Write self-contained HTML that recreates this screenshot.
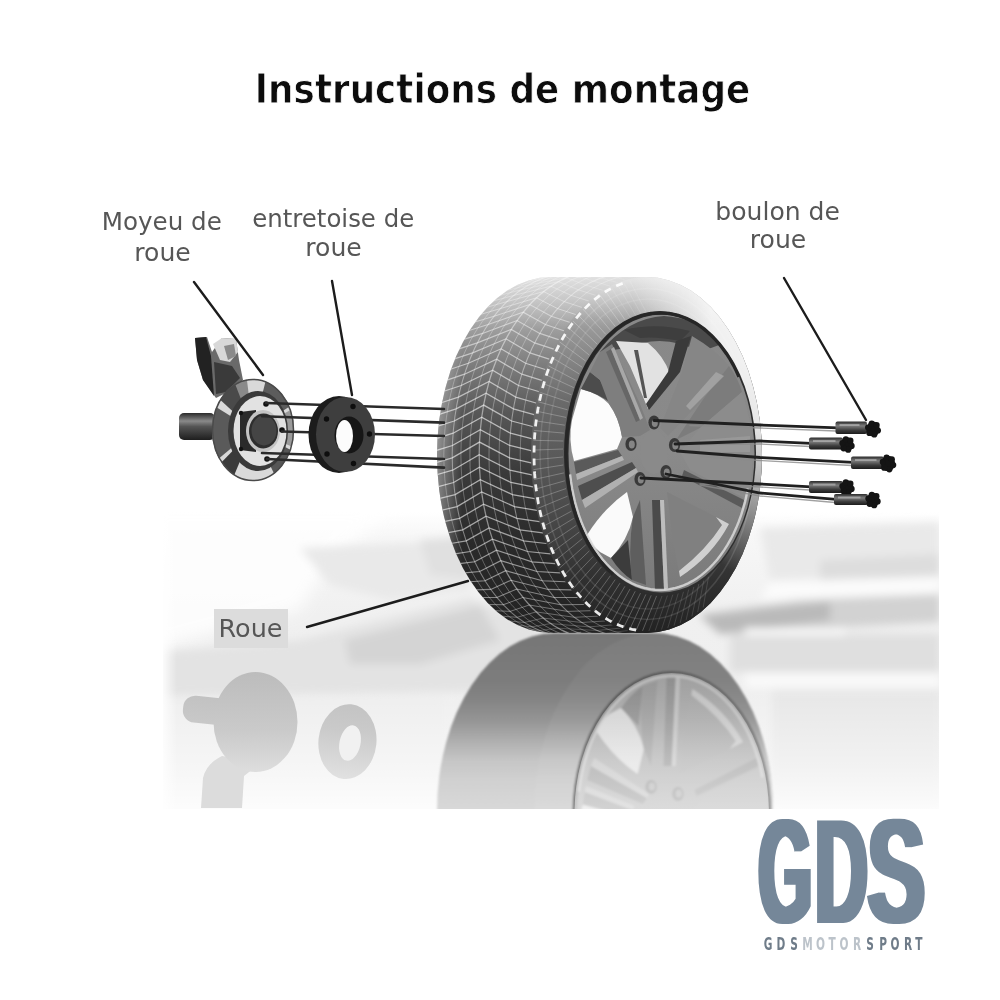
<!DOCTYPE html>
<html lang="fr">
<head>
<meta charset="utf-8">
<title>Instructions de montage</title>
<style>
html,body{margin:0;padding:0;background:#fff;}
body{width:1000px;height:1000px;overflow:hidden;position:relative;font-family:"DejaVu Sans","Liberation Sans",sans-serif;}
svg{position:absolute;left:0;top:0;display:block;}
.title{font-family:"DejaVu Sans","Liberation Sans",sans-serif;font-weight:bold;font-size:40.1px;fill:#0a0a0a;stroke:#fff;stroke-width:0.85px;stroke-linejoin:round;}
.lbl{font-family:"DejaVu Sans","Liberation Sans",sans-serif;font-size:24.6px;fill:#555;}
</style>
</head>
<body>
<svg width="1000" height="1000" viewBox="0 0 1000 1000">
<defs>
<filter id="b1" x="-20%" y="-20%" width="140%" height="140%"><feGaussianBlur stdDeviation="1"/></filter>
<filter id="b2" x="-20%" y="-20%" width="140%" height="140%"><feGaussianBlur stdDeviation="2"/></filter>
<filter id="b4" x="-20%" y="-20%" width="140%" height="140%"><feGaussianBlur stdDeviation="4"/></filter>
<filter id="b8" x="-30%" y="-30%" width="160%" height="160%"><feGaussianBlur stdDeviation="8"/></filter>
<filter id="b05" x="-10%" y="-10%" width="120%" height="120%"><feGaussianBlur stdDeviation="0.6"/></filter>
<linearGradient id="floorFade" x1="0" y1="0" x2="0" y2="1">
  <stop offset="0" stop-color="#fff" stop-opacity="0"/>
  <stop offset="0.6" stop-color="#fff" stop-opacity="0"/>
  <stop offset="0.85" stop-color="#fff" stop-opacity="0.45"/>
  <stop offset="1" stop-color="#fff" stop-opacity="0.85"/>
</linearGradient>
<linearGradient id="reflG" gradientUnits="userSpaceOnUse" x1="0" y1="630" x2="0" y2="808">
  <stop offset="0" stop-color="#7a7a7a"/>
  <stop offset="0.35" stop-color="#949494"/>
  <stop offset="0.7" stop-color="#b8b8b8"/>
  <stop offset="1" stop-color="#d6d6d6"/>
</linearGradient>
<linearGradient id="reflRim" gradientUnits="userSpaceOnUse" x1="0" y1="664" x2="0" y2="808">
  <stop offset="0" stop-color="#bdbdbd"/>
  <stop offset="0.5" stop-color="#d2d2d2"/>
  <stop offset="1" stop-color="#e6e6e6"/>
</linearGradient>
<clipPath id="photo"><rect x="163" y="250" width="776" height="559"/></clipPath>
<clipPath id="reflClip"><path d="M436 808 C437 740 470 640 600 633 L700 633 C740 650 772 700 773 745 L771 808 Z"/></clipPath>
<linearGradient id="reflFade" gradientUnits="userSpaceOnUse" x1="0" y1="633" x2="0" y2="808">
 <stop offset="0" stop-color="#f4f4f4" stop-opacity="0"/>
 <stop offset="0.5" stop-color="#f4f4f4" stop-opacity="0.19"/>
 <stop offset="0.73" stop-color="#f4f4f4" stop-opacity="0.38"/>
 <stop offset="1" stop-color="#f4f4f4" stop-opacity="0.6"/>
</linearGradient>
<linearGradient id="floorBase" gradientUnits="userSpaceOnUse" x1="0" y1="512" x2="0" y2="808">
 <stop offset="0" stop-color="#ffffff"/>
 <stop offset="0.08" stop-color="#f7f7f7"/>
 <stop offset="0.35" stop-color="#f0f0f0"/>
 <stop offset="1" stop-color="#eeeeee"/>
</linearGradient>
<linearGradient id="edgeL" gradientUnits="userSpaceOnUse" x1="163" y1="0" x2="177" y2="0">
 <stop offset="0" stop-color="#fff" stop-opacity="0.8"/>
 <stop offset="1" stop-color="#fff" stop-opacity="0"/>
</linearGradient>
<linearGradient id="hubReflG" gradientUnits="userSpaceOnUse" x1="0" y1="672" x2="0" y2="790">
 <stop offset="0" stop-color="#bcbcbc"/>
 <stop offset="0.5" stop-color="#cacaca"/>
 <stop offset="1" stop-color="#e6e6e6"/>
</linearGradient>
<linearGradient id="reflBodyG" gradientUnits="userSpaceOnUse" x1="0" y1="633" x2="0" y2="458">
 <stop offset="0" stop-color="#767676"/>
 <stop offset="0.27" stop-color="#7c7c7c"/>
 <stop offset="0.38" stop-color="#848484"/>
 <stop offset="0.5" stop-color="#959595"/>
 <stop offset="0.61" stop-color="#adadad"/>
 <stop offset="0.73" stop-color="#c6c6c6"/>
 <stop offset="0.84" stop-color="#d0d0d0"/>
 <stop offset="1" stop-color="#d8d8d8"/>
</linearGradient>
<linearGradient id="reflRimFade" gradientUnits="userSpaceOnUse" x1="0" y1="673" x2="0" y2="808">
 <stop offset="0" stop-color="#f4f4f4" stop-opacity="0.28"/>
 <stop offset="0.45" stop-color="#f4f4f4" stop-opacity="0.4"/>
 <stop offset="1" stop-color="#f4f4f4" stop-opacity="0.62"/>
</linearGradient>

<clipPath id="tireSil"><path d="M551 277 L646.5 277 A115.5 178 0 0 1 646.5 633 L551 633 A114.0 178 0 0 1 551 277 Z"/></clipPath>
<clipPath id="rimClip"><ellipse cx="660" cy="453" rx="94" ry="140"/></clipPath>
<linearGradient id="treadG" gradientUnits="userSpaceOnUse" x1="0" y1="277" x2="0" y2="633">
 <stop offset="0" stop-color="#cfcfcf"/>
 <stop offset="0.12" stop-color="#a6a6a6"/>
 <stop offset="0.25" stop-color="#7c7c7c"/>
 <stop offset="0.38" stop-color="#585858"/>
 <stop offset="0.55" stop-color="#3a3a3a"/>
 <stop offset="0.75" stop-color="#2a2a2a"/>
 <stop offset="1" stop-color="#222"/>
</linearGradient>
<linearGradient id="sideG" gradientUnits="userSpaceOnUse" x1="0" y1="277" x2="0" y2="633">
 <stop offset="0" stop-color="#d8d8d8"/>
 <stop offset="0.12" stop-color="#9e9e9e"/>
 <stop offset="0.2" stop-color="#8c8c8c"/>
 <stop offset="0.27" stop-color="#7c7c7c"/>
 <stop offset="0.35" stop-color="#6a6a6a"/>
 <stop offset="0.5" stop-color="#5a5a5a"/>
 <stop offset="0.68" stop-color="#484848"/>
 <stop offset="0.85" stop-color="#303030"/>
 <stop offset="1" stop-color="#222"/>
</linearGradient>
<linearGradient id="sideFadeR" gradientUnits="userSpaceOnUse" x1="650" y1="300" x2="770" y2="300">
 <stop offset="0" stop-color="#fff" stop-opacity="0"/>
 <stop offset="1" stop-color="#fff" stop-opacity="0.85"/>
</linearGradient>
<linearGradient id="sideFadeV" gradientUnits="userSpaceOnUse" x1="0" y1="300" x2="0" y2="520">
 <stop offset="0" stop-color="#fff" stop-opacity="1"/>
 <stop offset="1" stop-color="#fff" stop-opacity="0"/>
</linearGradient>
<radialGradient id="fadeTR" gradientUnits="userSpaceOnUse" cx="775" cy="300" r="285" gradientTransform="translate(775 300) scale(0.5 1) translate(-775 -300)">
 <stop offset="0" stop-color="#fff" stop-opacity="0.97"/>
 <stop offset="0.45" stop-color="#fff" stop-opacity="0.85"/>
 <stop offset="0.75" stop-color="#fff" stop-opacity="0.4"/>
 <stop offset="1" stop-color="#fff" stop-opacity="0"/>
</radialGradient>
<linearGradient id="fadeTop" gradientUnits="userSpaceOnUse" x1="0" y1="272" x2="0" y2="330">
 <stop offset="0" stop-color="#fff" stop-opacity="0.4"/>
 <stop offset="1" stop-color="#fff" stop-opacity="0"/>
</linearGradient>
<mask id="fadeMask"><rect x="600" y="250" width="200" height="300" fill="url(#sideFadeV)"/></mask>
<linearGradient id="treadEdge" gradientUnits="userSpaceOnUse" x1="437" y1="0" x2="462" y2="0">
 <stop offset="0" stop-color="#fff" stop-opacity="0.4"/>
 <stop offset="1" stop-color="#fff" stop-opacity="0"/>
</linearGradient>
<linearGradient id="rimG" gradientUnits="userSpaceOnUse" x1="0" y1="313" x2="0" y2="593">
 <stop offset="0" stop-color="#888"/>
 <stop offset="0.5" stop-color="#8a8a8a"/>
 <stop offset="1" stop-color="#7a7a7a"/>
</linearGradient>
<linearGradient id="shaftG" x1="0" y1="0" x2="0" y2="1">
 <stop offset="0" stop-color="#2a2a2a"/><stop offset="0.3" stop-color="#8a8a8a"/><stop offset="0.5" stop-color="#555"/><stop offset="1" stop-color="#1e1e1e"/>
</linearGradient>
<linearGradient id="boltG" x1="0" y1="0" x2="0" y2="1">
 <stop offset="0" stop-color="#2c2c2c"/><stop offset="0.35" stop-color="#7c7c7c"/><stop offset="0.7" stop-color="#3c3c3c"/><stop offset="1" stop-color="#1c1c1c"/>
</linearGradient>
<linearGradient id="discG" x1="0" y1="0" x2="1" y2="1">
 <stop offset="0" stop-color="#6a6a6a"/><stop offset="0.3" stop-color="#e8e8e8"/><stop offset="0.5" stop-color="#5a5a5a"/><stop offset="0.75" stop-color="#d8d8d8"/><stop offset="1" stop-color="#3a3a3a"/>
</linearGradient>
<linearGradient id="brkG" x1="0" y1="0" x2="1" y2="0">
 <stop offset="0" stop-color="#2e2e2e"/><stop offset="0.45" stop-color="#c8c8c8"/><stop offset="0.7" stop-color="#4a4a4a"/><stop offset="1" stop-color="#9a9a9a"/>
</linearGradient>
<filter id="hdG" x="-10%" y="-5%" width="120%" height="110%"><feMorphology operator="dilate" radius="6.05 0"/><feGaussianBlur stdDeviation="0.5"/></filter>
<filter id="hdD" x="-10%" y="-5%" width="120%" height="110%"><feMorphology operator="dilate" radius="5.74 0"/><feGaussianBlur stdDeviation="0.5"/></filter>
<filter id="hdS" x="-10%" y="-5%" width="120%" height="110%"><feMorphology operator="dilate" radius="4.82 0"/><feGaussianBlur stdDeviation="0.5"/></filter></defs>
<g clip-path="url(#photo)">
  <!-- base floor -->
  <rect x="163" y="512" width="776" height="297" fill="url(#floorBase)"/>
  <path d="M150 505 L400 505 L330 560 L300 610 L150 650 Z" fill="#fff" opacity="0.85" filter="url(#b8)"/>
  <g filter="url(#b4)">
    <!-- left clouds -->
    <path d="M300 548 L470 540 L470 590 L390 600 L330 585 Z" fill="#e9e9e9"/>
    <path d="M420 540 L470 536 L470 580 L430 575 Z" fill="#e0e0e0"/>
    <path d="M163 652 L300 640 L470 598 L540 628 L540 690 L163 696 Z" fill="#e3e3e3"/>
    <path d="M345 640 L480 606 L500 640 L420 664 L350 664 Z" fill="#d4d4d4"/>
    <rect x="163" y="696" width="280" height="113" fill="#eeeeee"/>
    <!-- right side bands -->
    <path d="M760 528 L940 522 L940 576 L770 580 Z" fill="#e9e9e9"/>
    <path d="M820 560 L940 554 L940 576 L820 580 Z" fill="#dddddd"/>
    <path d="M770 582 L940 577 L940 593 L760 600 Z" fill="#fbfbfb"/>
    <path d="M700 614 L800 600 L940 594 L940 622 L720 634 Z" fill="#d2d2d2"/>
    <path d="M700 616 L830 602 L830 620 L720 634 Z" fill="#b9b9b9"/>
    <rect x="730" y="634" width="210" height="38" fill="#dfdfdf"/>
    <rect x="745" y="628" width="100" height="7" fill="#fafafa"/>
    <rect x="745" y="673" width="195" height="15" fill="#f9f9f9"/>
    <rect x="772" y="690" width="168" height="119" fill="#e7e7e7"/>
  </g>
  <rect x="163" y="512" width="776" height="297" fill="url(#floorFade)"/>
  <!-- soft left / right edges -->
  <rect x="163" y="512" width="14" height="297" fill="url(#edgeL)"/>
</g>

<g clip-path="url(#photo)">
 <g filter="url(#b05)">
  <path d="M201 808 L203 778 Q206 764 222 756 L262 762 L244 776 L242 808 Z" fill="#dcdcdc"/>
  <rect x="183" y="697" width="50" height="27" rx="12" fill="url(#hubReflG)" transform="rotate(6 208 710)"/>
  <ellipse cx="255.500" cy="722" rx="42" ry="50" fill="url(#hubReflG)"/>
  <ellipse cx="347.400" cy="741.600" rx="29" ry="37.500" fill="url(#hubReflG)" transform="rotate(6 347 742)"/>
  <ellipse cx="350" cy="743" rx="10.500" ry="18" fill="#f1f1f1" transform="rotate(12 350 743)"/>
 </g>
 <g transform="translate(437,1266) scale(1.034,-1) translate(-437,0)" filter="url(#b1)">
  <path d="M551 277 L646.5 277 A115.5 178 0 0 1 646.5 633 L551 633 A114.0 178 0 0 1 551 277 Z" fill="url(#reflBodyG)"/>
  <ellipse cx="646.5" cy="455" rx="115.5" ry="178" fill="url(#reflBodyG)"/>
  <ellipse cx="646.5" cy="455" rx="115.5" ry="178" fill="#fff" opacity="0.05"/>
  <g transform="translate(4,0)" opacity="0.5"><use href="#tireRim"/></g>
 </g>
 <ellipse cx="671.7" cy="813" rx="97.2" ry="140" fill="url(#reflRimFade)"/>
</g>
<g id="tire">
<path d="M551 277 L646.5 277 A115.5 178 0 0 1 646.5 633 L551 633 A114.0 178 0 0 1 551 277 Z" fill="url(#treadG)"/>
<g clip-path="url(#tireSil)" fill="none" stroke="#fff" stroke-linecap="round">
<path d="M657.2 632.2 L649.2 633.9 L641.0 634.8 L632.9 634.8 L624.7 633.9 L616.7 632.2 L608.7 629.6 L600.9 626.1 L593.2 621.8 L585.8 616.7 L578.6 610.8 L571.7 604.2 L565.1 596.8 L558.8 588.7 L553.0 580.0 L547.5 570.7 L542.5 560.8 L537.9 550.3 L533.9 539.5 L530.3 528.2 L527.2 516.5 L524.7 504.6 L522.8 492.4 L521.3 480.0 L520.5 467.6 L520.2 455.0 L520.5 442.4 L521.3 430.0 L522.8 417.6 L524.7 405.4 L527.2 393.5 L530.3 381.8 L533.9 370.5 L537.9 359.7 L542.5 349.2 L547.5 339.3 L553.0 330.0 L558.8 321.3 L565.1 313.2 L571.7 305.8 L578.6 299.2 L585.8 293.3 L593.2 288.2 L600.9 283.9 L608.7 280.4 L616.7 277.8 L624.7 276.1 L632.9 275.2 L641.0 275.2 L649.2 276.1 L657.2 277.8" stroke-width="0.9" stroke-opacity="0.3"/>
<path d="M647.9 633.9 L639.7 635.7 L631.5 636.6 L623.3 636.6 L615.1 635.7 L606.9 633.9 L598.9 631.3 L591.0 627.8 L583.2 623.4 L575.7 618.3 L568.5 612.3 L561.5 605.6 L554.8 598.2 L548.5 590.0 L542.6 581.2 L537.1 571.8 L532.0 561.8 L527.4 551.3 L523.3 540.3 L519.7 528.9 L516.6 517.1 L514.1 505.1 L512.1 492.8 L510.7 480.3 L509.8 467.7 L509.5 455.0 L509.8 442.3 L510.7 429.7 L512.1 417.2 L514.1 404.9 L516.6 392.9 L519.7 381.1 L523.3 369.7 L527.4 358.7 L532.0 348.2 L537.1 338.2 L542.6 328.8 L548.5 320.0 L554.8 311.8 L561.5 304.4 L568.5 297.7 L575.7 291.7 L583.2 286.6 L591.0 282.2 L598.9 278.7 L606.9 276.1 L615.1 274.3 L623.3 273.4 L631.5 273.4 L639.7 274.3 L647.9 276.1" stroke-width="1.1" stroke-opacity="0.4"/>
<path d="M638.5 635.3 L630.3 637.0 L622.0 637.9 L613.7 637.9 L605.4 637.0 L597.2 635.3 L589.1 632.6 L581.1 629.1 L573.4 624.7 L565.8 619.5 L558.5 613.5 L551.4 606.7 L544.7 599.2 L538.4 591.0 L532.4 582.2 L526.9 572.7 L521.8 562.6 L517.1 552.0 L513.0 540.9 L509.3 529.4 L506.2 517.6 L503.7 505.5 L501.7 493.1 L500.2 480.5 L499.4 467.8 L499.1 455.0 L499.4 442.2 L500.2 429.5 L501.7 416.9 L503.7 404.5 L506.2 392.4 L509.3 380.6 L513.0 369.1 L517.1 358.0 L521.8 347.4 L526.9 337.3 L532.4 327.8 L538.4 319.0 L544.7 310.8 L551.4 303.3 L558.5 296.5 L565.8 290.5 L573.4 285.3 L581.1 280.9 L589.1 277.4 L597.2 274.7 L605.4 273.0 L613.7 272.1 L622.0 272.1 L630.3 273.0 L638.5 274.7" stroke-width="0.9" stroke-opacity="0.3"/>
<path d="M629.0 636.1 L620.8 637.9 L612.5 638.8 L604.1 638.8 L595.8 637.9 L587.6 636.1 L579.4 633.5 L571.4 629.9 L563.6 625.5 L556.0 620.3 L548.6 614.3 L541.6 607.5 L534.8 599.9 L528.4 591.7 L522.5 582.8 L516.9 573.2 L511.7 563.1 L507.1 552.5 L502.9 541.3 L499.3 529.8 L496.2 517.9 L493.6 505.7 L491.6 493.2 L490.1 480.6 L489.2 467.8 L489.0 455.0 L489.2 442.2 L490.1 429.4 L491.6 416.8 L493.6 404.3 L496.2 392.1 L499.3 380.2 L502.9 368.7 L507.1 357.5 L511.7 346.9 L516.9 336.8 L522.5 327.2 L528.4 318.3 L534.8 310.1 L541.6 302.5 L548.6 295.7 L556.0 289.7 L563.6 284.5 L571.4 280.1 L579.4 276.5 L587.6 273.9 L595.8 272.1 L604.1 271.2 L612.5 271.2 L620.8 272.1 L629.0 273.9" stroke-width="0.9" stroke-opacity="0.34"/>
<path d="M619.5 636.4 L611.2 638.2 L602.9 639.1 L594.6 639.1 L586.3 638.2 L578.0 636.4 L569.8 633.8 L561.8 630.2 L554.0 625.8 L546.3 620.6 L539.0 614.5 L531.9 607.7 L525.2 600.2 L518.8 591.9 L512.8 583.0 L507.2 573.4 L502.0 563.3 L497.4 552.6 L493.2 541.5 L489.5 529.9 L486.4 518.0 L483.8 505.8 L481.8 493.3 L480.4 480.6 L479.5 467.9 L479.2 455.0 L479.5 442.1 L480.4 429.4 L481.8 416.7 L483.8 404.2 L486.4 392.0 L489.5 380.1 L493.2 368.5 L497.4 357.4 L502.0 346.7 L507.2 336.6 L512.8 327.0 L518.8 318.1 L525.2 309.8 L531.9 302.3 L539.0 295.5 L546.3 289.4 L554.0 284.2 L561.8 279.8 L569.8 276.2 L578.0 273.6 L586.3 271.8 L594.6 270.9 L602.9 270.9 L611.2 271.8 L619.5 273.6" stroke-width="1.3" stroke-opacity="0.45"/>
<path d="M609.9 636.1 L601.7 637.9 L593.4 638.8 L585.0 638.8 L576.7 637.9 L568.5 636.1 L560.3 633.5 L552.3 629.9 L544.5 625.5 L536.9 620.3 L529.5 614.3 L522.5 607.5 L515.7 599.9 L509.3 591.7 L503.4 582.8 L497.8 573.2 L492.6 563.1 L488.0 552.5 L483.8 541.3 L480.2 529.8 L477.1 517.9 L474.5 505.7 L472.5 493.2 L471.0 480.6 L470.1 467.8 L469.9 455.0 L470.1 442.2 L471.0 429.4 L472.5 416.8 L474.5 404.3 L477.1 392.1 L480.2 380.2 L483.8 368.7 L488.0 357.5 L492.6 346.9 L497.8 336.8 L503.4 327.2 L509.3 318.3 L515.7 310.1 L522.5 302.5 L529.5 295.7 L536.9 289.7 L544.5 284.5 L552.3 280.1 L560.3 276.5 L568.5 273.9 L576.7 272.1 L585.0 271.2 L593.4 271.2 L601.7 272.1 L609.9 273.9" stroke-width="0.9" stroke-opacity="0.34"/>
<path d="M600.3 635.3 L592.1 637.0 L583.8 637.9 L575.5 637.9 L567.2 637.0 L559.0 635.3 L550.9 632.6 L542.9 629.1 L535.2 624.7 L527.6 619.5 L520.3 613.5 L513.2 606.7 L506.5 599.2 L500.2 591.0 L494.2 582.2 L488.7 572.7 L483.6 562.6 L478.9 552.0 L474.8 540.9 L471.1 529.4 L468.0 517.6 L465.5 505.5 L463.5 493.1 L462.0 480.5 L461.2 467.8 L460.9 455.0 L461.2 442.2 L462.0 429.5 L463.5 416.9 L465.5 404.5 L468.0 392.4 L471.1 380.6 L474.8 369.1 L478.9 358.0 L483.6 347.4 L488.7 337.3 L494.2 327.8 L500.2 319.0 L506.5 310.8 L513.2 303.3 L520.3 296.5 L527.6 290.5 L535.2 285.3 L542.9 280.9 L550.9 277.4 L559.0 274.7 L567.2 273.0 L575.5 272.1 L583.8 272.1 L592.1 273.0 L600.3 274.7" stroke-width="0.9" stroke-opacity="0.3"/>
<path d="M590.6 633.9 L582.4 635.7 L574.2 636.6 L566.0 636.6 L557.8 635.7 L549.6 633.9 L541.6 631.3 L533.7 627.8 L525.9 623.4 L518.4 618.3 L511.2 612.3 L504.2 605.6 L497.5 598.2 L491.2 590.0 L485.3 581.2 L479.8 571.8 L474.7 561.8 L470.1 551.3 L466.0 540.3 L462.4 528.9 L459.3 517.1 L456.8 505.1 L454.8 492.8 L453.4 480.3 L452.5 467.7 L452.2 455.0 L452.5 442.3 L453.4 429.7 L454.8 417.2 L456.8 404.9 L459.3 392.9 L462.4 381.1 L466.0 369.7 L470.1 358.7 L474.7 348.2 L479.8 338.2 L485.3 328.8 L491.2 320.0 L497.5 311.8 L504.2 304.4 L511.2 297.7 L518.4 291.7 L525.9 286.6 L533.7 282.2 L541.6 278.7 L549.6 276.1 L557.8 274.3 L566.0 273.4 L574.2 273.4 L582.4 274.3 L590.6 276.1" stroke-width="1.1" stroke-opacity="0.4"/>
<path d="M580.8 632.2 L572.8 633.9 L564.6 634.8 L556.5 634.8 L548.3 633.9 L540.3 632.2 L532.3 629.6 L524.5 626.1 L516.8 621.8 L509.4 616.7 L502.2 610.8 L495.3 604.2 L488.7 596.8 L482.4 588.7 L476.6 580.0 L471.1 570.7 L466.1 560.8 L461.5 550.3 L457.5 539.5 L453.9 528.2 L450.8 516.5 L448.3 504.6 L446.4 492.4 L444.9 480.0 L444.1 467.6 L443.8 455.0 L444.1 442.4 L444.9 430.0 L446.4 417.6 L448.3 405.4 L450.8 393.5 L453.9 381.8 L457.5 370.5 L461.5 359.7 L466.1 349.2 L471.1 339.3 L476.6 330.0 L482.4 321.3 L488.7 313.2 L495.3 305.8 L502.2 299.2 L509.4 293.3 L516.8 288.2 L524.5 283.9 L532.3 280.4 L540.3 277.8 L548.3 276.1 L556.5 275.2 L564.6 275.2 L572.8 276.1 L580.8 277.8" stroke-width="0.9" stroke-opacity="0.3"/>
<path d="M666.6 630.3 L644.6 634.7 L606.0 638.9 L587.3 634.7 L571.1 630.3" stroke-width="0.70" stroke-opacity="0.16"/>
<path d="M658.8 632.0 L636.6 636.1 L597.9 639.2 L579.3 636.1 L563.3 632.0" stroke-width="0.70" stroke-opacity="0.16"/>
<path d="M650.9 632.9 L628.6 636.7 L589.8 638.7 L571.3 636.7 L555.4 632.9" stroke-width="0.70" stroke-opacity="0.16"/>
<path d="M643.1 632.9 L620.6 636.4 L581.7 637.3 L563.3 636.4 L547.6 632.9" stroke-width="0.70" stroke-opacity="0.16"/>
<path d="M635.2 632.2 L612.6 635.2 L573.7 635.1 L555.3 635.2 L539.7 632.2" stroke-width="0.70" stroke-opacity="0.16"/>
<path d="M627.4 630.6 L604.7 633.3 L565.8 632.1 L547.4 633.3 L531.9 630.6" stroke-width="0.75" stroke-opacity="0.21"/>
<path d="M619.7 628.2 L596.9 630.5 L558.1 628.2 L539.6 630.5 L524.2 628.2" stroke-width="0.80" stroke-opacity="0.25"/>
<path d="M612.2 624.9 L589.2 626.9 L550.5 623.6 L531.9 626.9 L516.7 624.9" stroke-width="0.84" stroke-opacity="0.29"/>
<path d="M604.7 621.0 L581.7 622.5 L543.2 618.1 L524.4 622.5 L509.2 621.0" stroke-width="0.89" stroke-opacity="0.32"/>
<path d="M597.5 616.2 L574.4 617.3 L536.1 611.9 L517.1 617.3 L502.0 616.2" stroke-width="0.93" stroke-opacity="0.35"/>
<path d="M590.5 610.7 L567.4 611.4 L529.3 605.0 L510.1 611.4 L495.0 610.7" stroke-width="0.97" stroke-opacity="0.38"/>
<path d="M583.8 604.5 L560.6 604.7 L522.9 597.4 L503.3 604.7 L488.3 604.5" stroke-width="1.01" stroke-opacity="0.41"/>
<path d="M577.3 597.5 L554.2 597.4 L516.8 589.1 L496.9 597.4 L481.8 597.5" stroke-width="1.05" stroke-opacity="0.44"/>
<path d="M571.2 589.9 L548.1 589.4 L511.0 580.2 L490.8 589.4 L475.7 589.9" stroke-width="1.08" stroke-opacity="0.46"/>
<path d="M565.4 581.7 L542.3 580.7 L505.7 570.7 L485.0 580.7 L469.9 581.7" stroke-width="1.12" stroke-opacity="0.49"/>
<path d="M560.0 572.9 L537.0 571.5 L500.8 560.7 L479.7 571.5 L464.5 572.9" stroke-width="1.15" stroke-opacity="0.51"/>
<path d="M555.0 563.6 L532.0 561.8 L496.4 550.2 L474.7 561.8 L459.5 563.6" stroke-width="1.18" stroke-opacity="0.52"/>
<path d="M550.4 553.8 L527.5 551.5 L492.4 539.2 L470.2 551.5 L454.9 553.8" stroke-width="1.20" stroke-opacity="0.54"/>
<path d="M546.3 543.5 L523.5 540.8 L489.0 527.9 L466.2 540.8 L450.8 543.5" stroke-width="1.22" stroke-opacity="0.55"/>
<path d="M542.6 532.8 L520.0 529.8 L486.0 516.2 L462.7 529.8 L447.1 532.8" stroke-width="1.24" stroke-opacity="0.57"/>
<path d="M539.4 521.7 L516.9 518.3 L483.6 504.2 L459.6 518.3 L443.9 521.7" stroke-width="1.26" stroke-opacity="0.58"/>
<path d="M536.7 510.3 L514.4 506.6 L481.6 492.0 L457.1 506.6 L441.2 510.3" stroke-width="1.28" stroke-opacity="0.59"/>
<path d="M534.5 498.7 L512.4 494.6 L480.3 479.7 L455.1 494.6 L439.0 498.7" stroke-width="1.29" stroke-opacity="0.59"/>
<path d="M532.9 486.8 L510.9 482.5 L479.5 467.2 L453.6 482.5 L437.4 486.8" stroke-width="1.29" stroke-opacity="0.60"/>
<path d="M531.7 474.8 L509.9 470.2 L479.2 454.7 L452.6 470.2 L436.2 474.8" stroke-width="1.30" stroke-opacity="0.60"/>
<path d="M531.1 462.8 L509.5 457.9 L479.5 442.1 L452.2 457.9 L435.6 462.8" stroke-width="1.30" stroke-opacity="0.60"/>
<path d="M531.0 450.7 L509.7 445.5 L480.3 429.7 L452.4 445.5 L435.5 450.7" stroke-width="1.30" stroke-opacity="0.60"/>
<path d="M531.5 438.6 L510.4 433.2 L481.7 417.3 L453.1 433.2 L436.0 438.6" stroke-width="1.29" stroke-opacity="0.60"/>
<path d="M532.5 426.5 L511.6 421.0 L483.7 405.1 L454.3 421.0 L437.0 426.5" stroke-width="1.28" stroke-opacity="0.59"/>
<path d="M534.0 414.7 L513.4 408.9 L486.1 393.2 L456.1 408.9 L438.5 414.7" stroke-width="1.27" stroke-opacity="0.58"/>
<path d="M536.0 403.0 L515.7 397.1 L489.1 381.5 L458.4 397.1 L440.5 403.0" stroke-width="1.26" stroke-opacity="0.57"/>
<path d="M538.6 391.5 L518.5 385.5 L492.6 370.2 L461.2 385.5 L443.1 391.5" stroke-width="1.24" stroke-opacity="0.56"/>
<path d="M541.7 380.3 L521.8 374.2 L496.6 359.3 L464.5 374.2 L446.2 380.3" stroke-width="1.22" stroke-opacity="0.55"/>
<path d="M545.2 369.5 L525.6 363.3 L501.1 348.8 L468.3 363.3 L449.7 369.5" stroke-width="1.20" stroke-opacity="0.54"/>
<path d="M549.2 359.1 L529.9 352.9 L506.0 338.8 L472.6 352.9 L453.7 359.1" stroke-width="1.17" stroke-opacity="0.52"/>
<path d="M553.7 349.1 L534.6 342.9 L511.3 329.4 L477.3 342.9 L458.2 349.1" stroke-width="1.14" stroke-opacity="0.50"/>
<path d="M558.5 339.6 L539.8 333.4 L517.1 320.5 L482.5 333.4 L463.0 339.6" stroke-width="1.11" stroke-opacity="0.48"/>
<path d="M563.8 330.7 L545.4 324.5 L523.2 312.2 L488.1 324.5 L468.3 330.7" stroke-width="1.07" stroke-opacity="0.46"/>
<path d="M569.5 322.3 L551.3 316.2 L529.7 304.6 L494.0 316.2 L474.0 322.3" stroke-width="1.04" stroke-opacity="0.43"/>
<path d="M575.6 314.5 L557.6 308.6 L536.5 297.8 L500.3 308.6 L480.1 314.5" stroke-width="1.00" stroke-opacity="0.41"/>
<path d="M581.9 307.4 L564.2 301.6 L543.6 291.6 L506.9 301.6 L486.4 307.4" stroke-width="0.96" stroke-opacity="0.38"/>
<path d="M588.6 301.0 L571.2 295.4 L550.9 286.2 L513.9 295.4 L493.1 301.0" stroke-width="0.92" stroke-opacity="0.35"/>
<path d="M595.5 295.3 L578.3 289.8 L558.5 281.6 L521.0 289.8 L500.0 295.3" stroke-width="0.88" stroke-opacity="0.31"/>
<path d="M602.7 290.3 L585.7 285.1 L566.2 277.7 L528.4 285.1 L507.2 290.3" stroke-width="0.83" stroke-opacity="0.28"/>
<path d="M610.0 286.1 L593.3 281.1 L574.1 274.7 L536.0 281.1 L514.5 286.1" stroke-width="0.79" stroke-opacity="0.24"/>
<path d="M617.6 282.7 L601.1 277.9 L582.1 272.6 L543.8 277.9 L522.1 282.7" stroke-width="0.74" stroke-opacity="0.19"/>
<path d="M625.3 280.0 L609.0 275.6 L590.2 271.2 L551.7 275.6 L529.8 280.0" stroke-width="0.70" stroke-opacity="0.16"/>
<path d="M633.0 278.2 L616.9 274.1 L598.3 270.8 L559.6 274.1 L537.5 278.2" stroke-width="0.70" stroke-opacity="0.16"/>
<path d="M640.9 277.2 L624.9 273.4 L606.5 271.2 L567.6 273.4 L545.4 277.2" stroke-width="0.70" stroke-opacity="0.16"/>
<path d="M648.7 277.0 L633.0 273.5 L614.6 272.4 L575.7 273.5 L553.2 277.0" stroke-width="0.70" stroke-opacity="0.16"/>
<path d="M656.6 277.7 L640.9 274.5 L622.6 274.5 L583.6 274.5 L561.1 277.7" stroke-width="0.70" stroke-opacity="0.16"/>
</g>
<path d="M551 277 L646.5 277 A115.5 178 0 0 1 646.5 633 L551 633 A114.0 178 0 0 1 551 277 Z" fill="url(#treadEdge)"/>
<ellipse cx="646.5" cy="455" rx="115.5" ry="178" fill="url(#sideG)"/>
<ellipse cx="647.5" cy="454" rx="107.4" ry="165.5" fill="none" stroke="#fff" stroke-opacity="0.12" stroke-width="1.5"/>
<ellipse cx="648.3" cy="454" rx="100.5" ry="154.9" fill="none" stroke="#fff" stroke-opacity="0.1" stroke-width="1.5"/>
<g stroke="#fff" fill="none">
<path d="M703.2 607.4 L708.5 576.8" stroke-width="0.9" stroke-opacity="0.15"/>
<path d="M697.7 612.1 L703.7 580.6" stroke-width="0.9" stroke-opacity="0.15"/>
<path d="M691.9 616.3 L698.8 584.0" stroke-width="0.9" stroke-opacity="0.15"/>
<path d="M686.1 620.0 L693.8 587.0" stroke-width="0.9" stroke-opacity="0.15"/>
<path d="M680.1 623.1 L688.7 589.6" stroke-width="0.9" stroke-opacity="0.15"/>
<path d="M674.0 625.8 L683.5 591.8" stroke-width="0.9" stroke-opacity="0.15"/>
<path d="M667.8 627.9 L678.2 593.5" stroke-width="0.9" stroke-opacity="0.15"/>
<path d="M661.5 629.5 L672.8 594.7" stroke-width="0.9" stroke-opacity="0.15"/>
<path d="M655.2 630.5 L667.4 595.6" stroke-width="0.9" stroke-opacity="0.15"/>
<path d="M648.9 631.0 L662.0 596.0" stroke-width="0.9" stroke-opacity="0.15"/>
<path d="M642.5 630.9 L656.6 595.9" stroke-width="0.9" stroke-opacity="0.28"/>
<path d="M636.2 630.3 L651.2 595.4" stroke-width="0.9" stroke-opacity="0.28"/>
<path d="M629.9 629.1 L645.8 594.5" stroke-width="0.9" stroke-opacity="0.28"/>
<path d="M623.7 627.4 L640.5 593.1" stroke-width="0.9" stroke-opacity="0.28"/>
<path d="M617.5 625.2 L635.2 591.3" stroke-width="0.9" stroke-opacity="0.28"/>
<path d="M611.4 622.4 L630.0 589.0" stroke-width="0.9" stroke-opacity="0.28"/>
<path d="M605.5 619.1 L624.9 586.3" stroke-width="0.9" stroke-opacity="0.28"/>
<path d="M599.6 615.3 L619.9 583.2" stroke-width="0.9" stroke-opacity="0.28"/>
<path d="M593.9 611.0 L615.1 579.7" stroke-width="0.9" stroke-opacity="0.28"/>
<path d="M588.4 606.2 L610.3 575.8" stroke-width="0.9" stroke-opacity="0.28"/>
<path d="M583.0 600.9 L605.8 571.6" stroke-width="0.9" stroke-opacity="0.28"/>
<path d="M577.9 595.2 L601.4 566.9" stroke-width="0.9" stroke-opacity="0.28"/>
<path d="M572.9 589.0 L597.1 561.9" stroke-width="0.9" stroke-opacity="0.28"/>
<path d="M568.2 582.5 L593.1 556.6" stroke-width="0.9" stroke-opacity="0.28"/>
<path d="M563.8 575.5 L589.3 550.9" stroke-width="0.9" stroke-opacity="0.28"/>
<path d="M559.6 568.1 L585.7 544.9" stroke-width="0.9" stroke-opacity="0.28"/>
<path d="M555.6 560.4 L582.3 538.7" stroke-width="0.9" stroke-opacity="0.28"/>
<path d="M552.0 552.4 L579.2 532.1" stroke-width="0.9" stroke-opacity="0.28"/>
<path d="M548.6 544.1 L576.3 525.4" stroke-width="0.9" stroke-opacity="0.28"/>
<path d="M545.6 535.4 L573.7 518.4" stroke-width="0.9" stroke-opacity="0.28"/>
<path d="M542.8 526.6 L571.4 511.2" stroke-width="0.9" stroke-opacity="0.28"/>
<path d="M540.4 517.5 L569.3 503.8" stroke-width="0.9" stroke-opacity="0.28"/>
<path d="M538.3 508.2 L567.5 496.2" stroke-width="0.9" stroke-opacity="0.28"/>
<path d="M536.6 498.8 L566.0 488.6" stroke-width="0.9" stroke-opacity="0.28"/>
<path d="M535.2 489.2 L564.8 480.8" stroke-width="0.9" stroke-opacity="0.28"/>
<path d="M534.1 479.5 L563.9 472.9" stroke-width="0.9" stroke-opacity="0.28"/>
<path d="M533.4 469.7 L563.3 465.0" stroke-width="0.9" stroke-opacity="0.28"/>
<path d="M533.0 459.9 L563.0 457.0" stroke-width="0.9" stroke-opacity="0.28"/>
<path d="M533.0 450.1 L563.0 449.0" stroke-width="0.9" stroke-opacity="0.28"/>
<path d="M533.4 440.3 L563.3 441.0" stroke-width="0.9" stroke-opacity="0.28"/>
<path d="M534.1 430.5 L563.9 433.1" stroke-width="0.9" stroke-opacity="0.28"/>
<path d="M535.2 420.8 L564.8 425.2" stroke-width="0.9" stroke-opacity="0.28"/>
<path d="M536.6 411.2 L566.0 417.4" stroke-width="0.9" stroke-opacity="0.28"/>
<path d="M538.3 401.8 L567.5 409.8" stroke-width="0.9" stroke-opacity="0.28"/>
<path d="M540.4 392.5 L569.3 402.2" stroke-width="0.9" stroke-opacity="0.28"/>
<path d="M542.8 383.4 L571.4 394.8" stroke-width="0.9" stroke-opacity="0.28"/>
<path d="M545.6 374.6 L573.7 387.6" stroke-width="0.9" stroke-opacity="0.28"/>
<path d="M548.6 365.9 L576.3 380.6" stroke-width="0.9" stroke-opacity="0.28"/>
<path d="M552.0 357.6 L579.2 373.9" stroke-width="0.9" stroke-opacity="0.28"/>
<path d="M555.6 349.6 L582.3 367.3" stroke-width="0.9" stroke-opacity="0.28"/>
<path d="M559.6 341.9 L585.7 361.1" stroke-width="0.9" stroke-opacity="0.28"/>
<path d="M563.8 334.5 L589.3 355.1" stroke-width="0.9" stroke-opacity="0.28"/>
<path d="M568.2 327.5 L593.1 349.4" stroke-width="0.9" stroke-opacity="0.28"/>
<path d="M572.9 321.0 L597.1 344.1" stroke-width="0.9" stroke-opacity="0.28"/>
<path d="M577.9 314.8 L601.4 339.1" stroke-width="0.9" stroke-opacity="0.28"/>
<path d="M583.0 309.1 L605.8 334.4" stroke-width="0.9" stroke-opacity="0.28"/>
<path d="M588.4 303.8 L610.3 330.2" stroke-width="0.9" stroke-opacity="0.28"/>
<path d="M593.9 299.0 L615.1 326.3" stroke-width="0.9" stroke-opacity="0.28"/>
<path d="M599.6 294.7 L619.9 322.8" stroke-width="0.9" stroke-opacity="0.28"/>
<path d="M605.5 290.9 L624.9 319.7" stroke-width="0.9" stroke-opacity="0.28"/>
<path d="M611.4 287.6 L630.0 317.0" stroke-width="0.9" stroke-opacity="0.15"/>
<path d="M617.5 284.8 L635.2 314.7" stroke-width="0.9" stroke-opacity="0.15"/>
<path d="M623.7 282.6 L640.5 312.9" stroke-width="0.9" stroke-opacity="0.15"/>
<path d="M629.9 280.9 L645.8 311.5" stroke-width="0.9" stroke-opacity="0.15"/>
</g>
<g clip-path="url(#tireSil)"><rect x="560" y="250" width="240" height="360" fill="url(#fadeTR)"/><rect x="430" y="270" width="340" height="62" fill="url(#fadeTop)"/></g>
<path d="M636.1 630.0 L632.1 629.3 L628.2 628.3 L624.3 627.2 L620.4 625.8 L616.6 624.2 L612.8 622.4 L609.0 620.4 L605.3 618.2 L601.6 615.8 L598.0 613.2 L594.5 610.4 L591.0 607.4 L587.6 604.3 L584.3 600.9 L581.0 597.4 L577.8 593.7 L574.7 589.8 L571.7 585.8 L568.8 581.6 L566.0 577.3 L563.3 572.8 L560.7 568.1 L558.2 563.4 L555.8 558.5 L553.5 553.4 L551.3 548.3 L549.3 543.0 L547.3 537.6 L545.5 532.2 L543.9 526.6 L542.3 520.9 L540.9 515.2 L539.6 509.4 L538.4 503.5 L537.4 497.6 L536.5 491.6 L535.7 485.6 L535.1 479.5 L534.6 473.4 L534.3 467.3 L534.1 461.1 L534.0 455.0 L534.1 448.9 L534.3 442.7 L534.6 436.6 L535.1 430.5 L535.7 424.4 L536.5 418.4 L537.4 412.4 L538.4 406.5 L539.6 400.6 L540.9 394.8 L542.3 389.1 L543.9 383.4 L545.5 377.8 L547.3 372.4 L549.3 367.0 L551.3 361.7 L553.5 356.6 L555.8 351.5 L558.2 346.6 L560.7 341.9 L563.3 337.2 L566.0 332.7 L568.8 328.4 L571.7 324.2 L574.7 320.2 L577.8 316.3 L581.0 312.6 L584.3 309.1 L587.6 305.7 L591.0 302.6 L594.5 299.6 L598.0 296.8 L601.6 294.2 L605.3 291.8 L609.0 289.6 L612.8 287.6 L616.6 285.8 L620.4 284.2 L624.3 282.8 L628.2 281.7" fill="none" stroke="#fff" stroke-width="2.8" stroke-dasharray="7 6" stroke-opacity="0.9"/>
<g id="tireRim">
<ellipse cx="660" cy="453" rx="96" ry="142" fill="#2e2e2e"/>
<ellipse cx="661.5" cy="453.5" rx="93" ry="139" fill="url(#rimG)"/>
<g clip-path="url(#rimClip)" stroke-linejoin="round">
<path d="M600 352 Q628 318 664 316 Q700 318 722 344 L700 352 Q664 332 626 348 Z" fill="#4a4a4a" />
<path d="M616 341 L648 343 Q664 356 670 374 L648 409 Q636 380 630 366 Z" fill="#e2e2e2" />
<path d="M634 350 L638 350 L647 398 L644 398 Z" fill="#555" />
<path d="M624 330 Q656 322 690 331 L680 341 Q656 336 640 338 Z" fill="#3e3e3e" />
<path d="M676 341 L691 336 L680 372 L649 410 L646 404 L668 372 Z" fill="#3a3a3a" />
<path d="M692 336 Q716 350 729 366 L704 398 L668 436 L660 428 L682 372 Z" fill="#868686" />
<path d="M729 366 Q738 378 742 392 L700 428 L676 440 L704 398 Z" fill="#7c7c7c" />
<path d="M716 372 L724 376 L690 410 L686 406 Z" fill="#a8a8a8" opacity="0.8"/>
<path d="M700 428 L742 392 Q752 420 753 452 Q752 480 748 500 L690 470 L680 452 Z" fill="#8c8c8c" />
<path d="M700 440 L750 436 L750 452 L700 452 Z" fill="#9c9c9c" opacity="0.7"/>
<path d="M581 389 Q600 394 609 404 Q620 420 622 437 L617 449 L574 461 Q568 440 572 420 Z" fill="#fcfcfc" />
<path d="M581 389 L590 372 L600 380 L612 404 Q600 394 581 389 Z" fill="#4c4c4c" />
<path d="M627 492 L633 517 Q628 540 611 558 L600 552 Q590 544 587 535 Q604 508 627 492 Z" fill="#fafafa" />
<path d="M574 462 L618 450 L622 456 L576 474 Z" fill="#5a5a5a" />
<path d="M578 486 L632 462 L636 468 L582 500 Z" fill="#4e4e4e" />
<path d="M576 474 L622 456 L624 460 L577 480 Z" fill="#b4b4b4" />
<path d="M582 500 L636 468 L638 472 L585 508 Z" fill="#b0b0b0" />
<path d="M667 492 L716 517 L729 524 Q712 556 680 577 L674 548 Z" fill="#808080" />
<path d="M716 517 L729 524 Q712 556 680 577 L679 571 Q706 550 722 525 Z" fill="#d0d0d0" />
<path d="M652 500 L660 500 L664 590 L655 590 Z" fill="#4a4a4a" />
<path d="M660 500 L664 500 L668 588 L664 590 Z" fill="#bdbdbd" />
<path d="M633 517 L640 500 L646 585 L632 580 Q628 548 633 517 Z" fill="#5e5e5e" />
<path d="M611 558 L628 540 L632 580 Q620 572 611 558 Z" fill="#3c3c3c" />
<path d="M684 470 L744 500 L742 508 L682 476 Z" fill="#5a5a5a" />
<path d="M600 352 L612 344 L640 404 L650 430 L640 436 L622 437 Q618 415 609 404 L600 380 L590 372 Z" fill="#7e7e7e" />
<path d="M606 352 L611 349 L640 420 L636 422 Z" fill="#666" />
<path d="M611 349 L614 347 L643 418 L640 420 Z" fill="#a8a8a8" />
<ellipse cx="654" cy="452" rx="14" ry="22" fill="#8a8a8a"/>
<ellipse cx="654" cy="422.5" rx="5.6" ry="7" fill="#3a3a3a"/><ellipse cx="654.8" cy="423.0" rx="3" ry="4" fill="#858585"/>
<ellipse cx="631" cy="444" rx="5.6" ry="7" fill="#3a3a3a"/><ellipse cx="631.8" cy="444.5" rx="3" ry="4" fill="#858585"/>
<ellipse cx="674.5" cy="445" rx="5.6" ry="7" fill="#3a3a3a"/><ellipse cx="675.3" cy="445.5" rx="3" ry="4" fill="#858585"/>
<ellipse cx="640" cy="479" rx="5.6" ry="7" fill="#3a3a3a"/><ellipse cx="640.8" cy="479.5" rx="3" ry="4" fill="#858585"/>
<ellipse cx="666" cy="472" rx="5.6" ry="7" fill="#3a3a3a"/><ellipse cx="666.8" cy="472.5" rx="3" ry="4" fill="#858585"/>
</g>
<path d="M747.9 488.5 L746.5 495.3 L745.0 502.1 L743.1 508.7 L741.1 515.2 L738.8 521.5 L736.3 527.6 L733.6 533.5 L730.7 539.2 L727.6 544.7 L724.3 549.9 L720.9 554.8 L717.3 559.5 L713.5 563.8 L709.6 567.9 L705.5 571.6 L701.3 575.1 L697.0 578.2 L692.6 580.9 L688.1 583.3 L683.6 585.3 L678.9 587.0 L674.2 588.3 L669.5 589.2 L664.8 589.8 L660.0 590.0 L655.2 589.8 L650.5 589.2 L645.8 588.3 L641.1 587.0 L636.4 585.3 L631.9 583.3 L627.4 580.9 L623.0 578.2 L618.7 575.1 L614.5 571.6 L610.4 567.9 L606.5 563.8 L602.7 559.5 L599.1 554.8 L595.7 549.9 L592.4 544.7 L589.3 539.2 L586.4 533.5 L583.7 527.6 L581.2 521.5 L578.9 515.2 L576.9 508.7 L575.0 502.1 L573.5 495.3 L572.1 488.5 L571.0 481.5 L570.1 474.4" fill="none" stroke="#dadada" stroke-width="2.4" stroke-opacity="0.85"/>
<path d="M613.0 574.2 L608.8 570.4 L604.7 566.3 L600.8 561.8 L597.1 557.0 L593.5 552.0 L590.1 546.7 L586.9 541.1 L584.0 535.3 L581.2 529.2 L578.6 523.0 L576.2 516.6 L574.1 509.9 L572.2 503.2 L570.6 496.3 L569.2 489.2 L568.1 482.1 L567.2 474.9 L566.5 467.6 L566.1 460.3 L566.0 453.0 L566.1 445.7 L566.5 438.4 L567.2 431.1 L568.1 423.9 L569.2 416.8 L570.6 409.7 L572.2 402.8 L574.1 396.1 L576.2 389.4 L578.6 383.0 L581.2 376.8 L584.0 370.7 L586.9 364.9 L590.1 359.3 L593.5 354.0 L597.1 349.0 L600.8 344.2 L604.7 339.7 L608.8 335.6 L613.0 331.8 L617.3 328.3 L621.8 325.1 L626.3 322.3 L631.0 319.9 L635.7 317.8 L640.5 316.1 L645.3 314.7 L650.2 313.8 L655.1 313.2 L660.0 313.0 L664.9 313.2 L669.8 313.8 L674.7 314.7 L679.5 316.1 L684.3 317.8 L689.0 319.9 L693.7 322.3 L698.2 325.1 L702.7 328.3 L707.0 331.8 L711.2 335.6 L715.3 339.7 L719.2 344.2 L722.9 349.0 L726.5 354.0 L729.9 359.3 L733.1 364.9 L736.0 370.7 L738.8 376.8" fill="none" stroke="#262626" stroke-width="3"/>
</g>
</g>
<g id="hub">
 <!-- bracket -->
 <path d="M195 338 L207 337 L212 352 L222 338 L236 339 L239 360 L243 380 L228 392 L216 398 L203 380 L197 360 Z" fill="#6a6a6a"/>
 <path d="M195 338 L206 337 L211 356 L214 396 L203 380 L197 360 Z" fill="#222"/>
 <path d="M213 344 L222 338 L236 339 L238 352 L230 362 L220 360 Z" fill="#d8d8d8"/>
 <path d="M214 362 L232 366 L240 378 L226 392 L216 394 Z" fill="#3a3a3a"/>
 <path d="M224 346 L234 344 L236 356 L228 360 Z" fill="#8a8a8a"/>
 <!-- shaft -->
 <rect x="179" y="413" width="36" height="27" rx="5" fill="url(#shaftG)"/>
 <!-- disc -->
 <clipPath id="discClip"><ellipse cx="253" cy="430" rx="41" ry="51"/></clipPath>
 <ellipse cx="253" cy="430" rx="41" ry="51" fill="#d9d9d9"/>
 <g clip-path="url(#discClip)">
  <path d="M253 430 L215 395 L240 372 Z" fill="#4a4a4a"/>
  <path d="M253 430 L205 400 L205 470 Z" fill="#5a5a5a"/>
  <path d="M253 430 L232 376 L246 372 Z" fill="#8a8a8a"/>
  <path d="M253 430 L268 372 L300 400 Z" fill="#5c5c5c"/>
  <path d="M253 430 L300 455 L282 490 Z" fill="#565656"/>
  <path d="M253 430 L228 490 L214 470 Z" fill="#3a3a3a"/>
  <path d="M253 430 L300 405 L300 450 Z" fill="#9a9a9a"/>
 </g>
 <ellipse cx="253" cy="430" rx="40.500" ry="50.500" fill="none" stroke="#4a4a4a" stroke-width="1.5"/>
 <ellipse cx="258" cy="431" rx="30" ry="40" fill="#3a3a3a"/>
 <ellipse cx="260" cy="431" rx="26.500" ry="35" fill="#e2e2e2"/>
 <path d="M240 412 L256 410 L256 452 L240 450 Z" fill="#2a2a2a"/>
 <ellipse cx="263" cy="431" rx="17" ry="21" fill="#c4c4c4"/>
 <ellipse cx="263.500" cy="431" rx="14.500" ry="17.500" fill="#2e2e2e"/>
 <ellipse cx="264" cy="430.500" rx="12.500" ry="15" fill="#454545"/>
 <!-- stud dots -->
 <circle cx="266" cy="404" r="2.8" fill="#111"/>
 <circle cx="282" cy="430" r="2.8" fill="#111"/>
 <circle cx="267" cy="459" r="2.8" fill="#111"/>
 <circle cx="241" cy="413" r="2.2" fill="#111"/>
 <circle cx="241" cy="449" r="2.2" fill="#111"/>
 <!-- guide lines hub -> tire -->
 <g stroke="#2a2a2a" stroke-width="2.6" fill="none" stroke-linecap="round">
  <path d="M266 403 L444 409"/>
  <path d="M262 416.300 L444 422.600"/>
  <path d="M282 431.500 L444 436"/>
  <path d="M262 453 L444 459"/>
  <path d="M267 459 L444 467.600"/>
 </g>
 <!-- spacer -->
 <ellipse cx="339" cy="434.500" rx="30.500" ry="38.500" fill="#1c1c1c"/>
 <ellipse cx="345.500" cy="434.500" rx="29.500" ry="37.500" fill="#3e3e3e"/>
 <ellipse cx="349" cy="435" rx="14.500" ry="18.500" fill="#161616"/>
 <ellipse cx="344.500" cy="436" rx="8.500" ry="16" fill="#fcfcfc"/>
 <g fill="#0e0e0e">
  <circle cx="353" cy="406.500" r="2.7"/><circle cx="326.500" cy="419" r="2.7"/><circle cx="369.500" cy="434" r="2.7"/>
  <circle cx="327" cy="454" r="2.7"/><circle cx="353.500" cy="463.500" r="2.7"/>
 </g>
 <!-- label pointer lines -->
 <g stroke="#1c1c1c" stroke-width="2.4" fill="none" stroke-linecap="round">
  <path d="M194 282 L263 375"/>
  <path d="M332 281 L352 395"/>
  <path d="M307 627 L468 581"/>
  <path d="M784 278 L866 420"/>
 </g>
</g>

<g id="bolts">
 <g stroke="#8a8a8a" stroke-width="1.3" fill="none" stroke-linecap="round" opacity="0.8">
  <path d="M690 425.500 L760 428 L836 431"/>
  <path d="M700 444.500 L760 444 L810 446.500"/>
  <path d="M700 456.500 L760 460.500 L852 465.500"/>
  <path d="M700 484 L760 487 L810 490"/>
  <path d="M700 485 L760 496 L835 502.500"/>
 </g>
 <g stroke="#202020" stroke-width="2.8" fill="none" stroke-linecap="round">
  <path d="M654 420.500 L760 425 L838 427.800"/>
  <path d="M675 444 L760 441 L811 443.300"/>
  <path d="M677 451 L760 457.500 L853 462.300"/>
  <path d="M641 478 L760 484 L811 486.800"/>
  <path d="M666 474 L760 493 L836 499.300"/>
 </g>
 <rect x="835.5" y="421.5" width="31.5" height="12.5" rx="2" fill="url(#boltG)"/>
 <rect x="839.5" y="424.0" width="20.0" height="2" fill="#c8c8c8" opacity="0.55"/>
 <ellipse cx="873" cy="429" rx="6.700000000000001" ry="7.500000000000001" fill="#141414"/>
 <circle cx="877.9" cy="430.5" r="3.1" fill="#141414"/>
 <circle cx="874.3" cy="434.5" r="3.1" fill="#141414"/>
 <circle cx="869.4" cy="433.0" r="3.1" fill="#141414"/>
 <circle cx="868.1" cy="427.5" r="3.1" fill="#141414"/>
 <circle cx="871.7" cy="423.5" r="3.1" fill="#141414"/>
 <circle cx="876.6" cy="425.0" r="3.1" fill="#141414"/>
 <rect x="809" y="437.5" width="34.0" height="12.0" rx="2" fill="url(#boltG)"/>
 <rect x="813" y="440.0" width="22.5" height="2" fill="#c8c8c8" opacity="0.55"/>
 <ellipse cx="847" cy="444.5" rx="6.4" ry="7.2" fill="#141414"/>
 <circle cx="851.6" cy="445.9" r="3.1" fill="#141414"/>
 <circle cx="848.2" cy="449.7" r="3.1" fill="#141414"/>
 <circle cx="843.6" cy="448.3" r="3.1" fill="#141414"/>
 <circle cx="842.4" cy="443.1" r="3.1" fill="#141414"/>
 <circle cx="845.8" cy="439.3" r="3.1" fill="#141414"/>
 <circle cx="850.4" cy="440.7" r="3.1" fill="#141414"/>
 <rect x="851" y="456.5" width="33.0" height="12.5" rx="2" fill="url(#boltG)"/>
 <rect x="855" y="459.0" width="21.5" height="2" fill="#c8c8c8" opacity="0.55"/>
 <ellipse cx="888" cy="463.5" rx="7.0" ry="7.8" fill="#141414"/>
 <circle cx="893.2" cy="465.1" r="3.1" fill="#141414"/>
 <circle cx="889.4" cy="469.3" r="3.1" fill="#141414"/>
 <circle cx="884.2" cy="467.7" r="3.1" fill="#141414"/>
 <circle cx="882.8" cy="461.9" r="3.1" fill="#141414"/>
 <circle cx="886.6" cy="457.7" r="3.1" fill="#141414"/>
 <circle cx="891.8" cy="459.3" r="3.1" fill="#141414"/>
 <rect x="809" y="481" width="34.0" height="12" rx="2" fill="url(#boltG)"/>
 <rect x="813" y="483.5" width="22.5" height="2" fill="#c8c8c8" opacity="0.55"/>
 <ellipse cx="847" cy="487.5" rx="6.4" ry="7.2" fill="#141414"/>
 <circle cx="851.6" cy="488.9" r="3.1" fill="#141414"/>
 <circle cx="848.2" cy="492.7" r="3.1" fill="#141414"/>
 <circle cx="843.6" cy="491.3" r="3.1" fill="#141414"/>
 <circle cx="842.4" cy="486.1" r="3.1" fill="#141414"/>
 <circle cx="845.8" cy="482.3" r="3.1" fill="#141414"/>
 <circle cx="850.4" cy="483.7" r="3.1" fill="#141414"/>
 <rect x="834" y="494" width="34.0" height="11" rx="2" fill="url(#boltG)"/>
 <rect x="838" y="496.5" width="22.5" height="2" fill="#c8c8c8" opacity="0.55"/>
 <ellipse cx="873" cy="500" rx="6.4" ry="7.2" fill="#141414"/>
 <circle cx="877.6" cy="501.4" r="3.1" fill="#141414"/>
 <circle cx="874.2" cy="505.2" r="3.1" fill="#141414"/>
 <circle cx="869.6" cy="503.8" r="3.1" fill="#141414"/>
 <circle cx="868.4" cy="498.6" r="3.1" fill="#141414"/>
 <circle cx="871.8" cy="494.8" r="3.1" fill="#141414"/>
 <circle cx="876.4" cy="496.2" r="3.1" fill="#141414"/>
</g>
<g class="lbl" text-anchor="middle" opacity="0.99">
 <text x="161.800" y="230" textLength="120" lengthAdjust="spacingAndGlyphs">Moyeu de</text>
 <text x="162.500" y="261.400" textLength="56.500" lengthAdjust="spacingAndGlyphs">roue</text>
 <text x="333.200" y="226.700" textLength="162" lengthAdjust="spacingAndGlyphs">entretoise de</text>
 <text x="333.500" y="256" textLength="56.500" lengthAdjust="spacingAndGlyphs">roue</text>
 <text x="777.600" y="219.600" textLength="124.500" lengthAdjust="spacingAndGlyphs">boulon de</text>
 <text x="778" y="248.400" textLength="56.500" lengthAdjust="spacingAndGlyphs">roue</text>
</g>
<rect x="214" y="609" width="74" height="39" fill="#dcdcdc"/>
<text opacity="0.99" class="lbl" x="250.500" y="636.800" text-anchor="middle" textLength="64" lengthAdjust="spacingAndGlyphs">Roue</text>

<text opacity="0.99" class="title" x="254.800" y="102.600" textLength="495.500" lengthAdjust="spacingAndGlyphs">Instructions de montage</text>
<g transform="translate(758.5,922.5) scale(0.463,1)" filter="url(#hdG)" fill="#758799" font-family="Liberation Sans, sans-serif" font-weight="bold" font-size="148.5px"><text x="0" y="0">G</text></g>
<g transform="translate(815.3,922.5) scale(0.488,1)" filter="url(#hdD)" fill="#758799" font-family="Liberation Sans, sans-serif" font-weight="bold" font-size="148.5px"><text x="0" y="0">D</text></g>
<g transform="translate(867.6,922.5) scale(0.581,1)" filter="url(#hdS)" fill="#758799" font-family="Liberation Sans, sans-serif" font-weight="bold" font-size="148.5px"><text x="0" y="0">S</text></g>
<g transform="translate(0,950) scale(0.66,1)" opacity="0.99" font-family="DejaVu Sans Condensed, DejaVu Sans, sans-serif" font-weight="bold" font-size="17.800px" text-anchor="middle">
<text x="1163.6 1183.3 1203.0 1223.5 1243.2 1260.6 1278.8 1298.5 1318.2 1337.9 1356.1 1375.8 1392.4" y="0" fill="#6e7b88">GDS<tspan fill="#bcc3ca">MOTOR</tspan>SPORT</text>
</g>
</svg>
</body>
</html>
